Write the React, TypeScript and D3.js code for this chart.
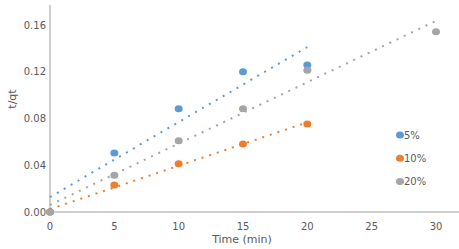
import React from "react";
import * as d3 from "d3";

const seriesNames = ["5%", "10%", "20%"];
const colors = ["#5B9BD5", "#ED7D31", "#A5A5A5"];
const times5 = [0, 5, 10, 15, 20];
const values5 = [0, 0.0505, 0.0884, 0.1200, 0.1258];
const times10 = [0, 5, 10, 15, 20];
const values10 = [0, 0.0231, 0.0413, 0.0582, 0.0753];
const times20 = [0, 5, 10, 15, 20, 30];
const values20 = [0, 0.0314, 0.0610, 0.0884, 0.1212, 0.1543];
const xTicks = [0, 5, 10, 15, 20, 25, 30];
const yTicks = [0, 0.04, 0.08, 0.12, 0.16];

const W = 459;
const H = 249;
const FONT = "DejaVu Sans, sans-serif";

function fit(xs: number[], ys: number[]) {
  const mx = d3.mean(xs)!;
  const my = d3.mean(ys)!;
  let sxy = 0, sxx = 0;
  xs.forEach((x, i) => {
    sxy += (x - mx) * (ys[i] - my);
    sxx += (x - mx) * (x - mx);
  });
  const slope = sxy / sxx;
  return { slope, intercept: my - slope * mx };
}

export default function App() {
  const x = d3.scaleLinear().domain([0, 30]).range([50, 436]);
  const y = d3.scaleLinear().domain([0, 0.16]).range([212, 25]);
  const series = [
    { name: seriesNames[0], xs: times5, ys: values5, color: colors[0] },
    { name: seriesNames[1], xs: times10, ys: values10, color: colors[1] },
    { name: seriesNames[2], xs: times20, ys: values20, color: colors[2] },
  ];
  const line = d3
    .line<[number, number]>()
    .x((d) => x(d[0]))
    .y((d) => y(d[1]));

  return (
    <svg width={W} height={H} style={{ position: "absolute", left: 0, top: 0, background: "#fff" }}>
      {/* axes */}
      <line x1={x(0)} x2={x(0)} y1={5} y2={y(0)} stroke="#BFBFBF" strokeWidth={1.5} />
      <line x1={x(0)} x2={W} y1={y(0)} y2={y(0)} stroke="#BFBFBF" strokeWidth={1.5} />
      {yTicks.map((t) => (
        <text key={t} x={46} y={y(t)} dy="0.35em" textAnchor="end" fontFamily={FONT} fontSize={10} fill="#595959">
          {d3.format(".2f")(t)}
        </text>
      ))}
      {xTicks.map((t) => (
        <text key={t} x={x(t)} y={230} textAnchor="middle" fontFamily={FONT} fontSize={10} fill="#595959">
          {t}
        </text>
      ))}
      <text x={242} y={243} textAnchor="middle" fontFamily={FONT} fontSize={11} fill="#595959">
        Time (min)
      </text>
      <text transform="translate(16,99) rotate(-90)" textAnchor="middle" fontFamily={FONT} fontSize={11} fill="#595959">
        t/qt
      </text>
      {/* trendlines */}
      {series.map((s) => {
        const f = fit(s.xs, s.ys);
        const x0 = d3.min(s.xs)!;
        const x1 = d3.max(s.xs)!;
        const pts: [number, number][] = [
          [x0, f.intercept + f.slope * x0],
          [x1, f.intercept + f.slope * x1],
        ];
        return (
          <path key={"t" + s.name} d={line(pts)!} stroke={s.color} strokeWidth={2} strokeDasharray="2 6" fill="none" />
        );
      })}
      {/* markers */}
      {series.map((s) =>
        s.xs.map((t, i) => (
          <ellipse key={s.name + i} cx={x(t)} cy={y(s.ys[i])} rx={4} ry={3.5} fill={s.color} />
        ))
      )}
      {/* legend */}
      {series.map((s, i) => (
        <g key={"l" + s.name} transform={`translate(400,${135 + i * 23.3})`}>
          <ellipse cx={0} cy={0} rx={4} ry={3.5} fill={s.color} />
          <text x={4} y={0} dy="0.35em" fontFamily={FONT} fontSize={10} fill="#595959">
            {s.name}
          </text>
        </g>
      ))}
    </svg>
  );
}
